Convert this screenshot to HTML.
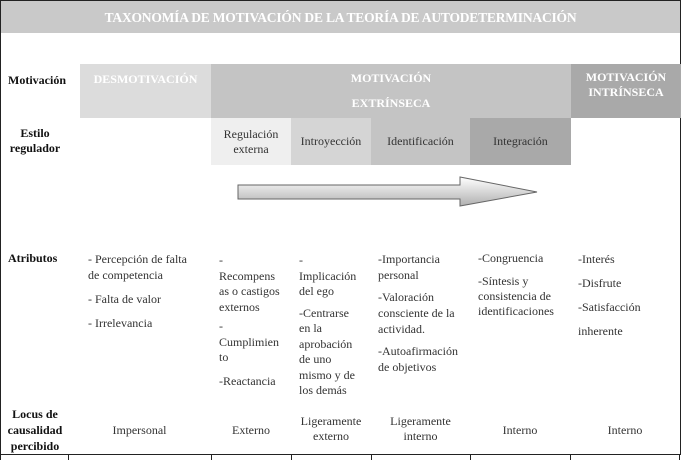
<!DOCTYPE html>
<html><head><meta charset="utf-8"><style>
body{margin:0;width:681px;height:460px;overflow:hidden;background:#fff;font-family:"Liberation Serif",serif;color:#333;font-size:12px;}
.a{position:absolute;}
.c{display:flex;align-items:center;justify-content:center;text-align:center;line-height:15px;}
.b{font-weight:bold;}
.t{line-height:15px;}
</style></head><body>
<div class="a" style="left:0;top:0;width:679px;height:454px;border:1px solid #222;border-bottom:none;"></div>
<div class="a c b" style="left:1px;top:1px;width:679px;height:32px;background:#c9c9c9;color:#fff;font-size:13.5px;letter-spacing:-0.2px">TAXONOMÍA DE MOTIVACIÓN DE LA TEORÍA DE AUTODETERMINACIÓN</div>

<div class="a b" style="left:8px;top:73px;font-size:12px;color:#111">Motivación</div>
<div class="a c b" style="left:80px;top:64px;width:131px;height:54px;background:#dcdcdc;color:#fff;align-items:flex-start;padding-top:8px;box-sizing:border-box">DESMOTIVACIÓN</div>
<div class="a c b" style="left:211px;top:64px;width:360px;height:54px;background:#c4c4c4;color:#fff;line-height:25px">MOTIVACIÓN<br>EXTRÍNSECA</div>
<div class="a c b" style="left:571px;top:64px;width:110px;height:54px;background:#a9a9a9;color:#fff;align-items:flex-start;padding-top:6px;box-sizing:border-box;line-height:15px">MOTIVACIÓN<br>INTRÍNSECA</div>

<div class="a c b" style="left:8px;top:126px;width:54px;color:#111">Estilo<br>regulador</div>
<div class="a c" style="left:211px;top:118px;width:80px;height:47px;background:#efefef">Regulación<br>externa</div>
<div class="a c" style="left:291px;top:118px;width:80px;height:47px;background:#d5d5d5">Introyección</div>
<div class="a c" style="left:371px;top:118px;width:99px;height:47px;background:#c4c4c4">Identificación</div>
<div class="a c" style="left:470px;top:118px;width:101px;height:47px;background:#a9a9a9">Integración</div>

<svg class="a" style="left:0;top:0" width="681" height="460">
<defs><linearGradient id="g" x1="0" y1="0" x2="0" y2="1"><stop offset="0" stop-color="#fff"/><stop offset="1" stop-color="#b0b0b0"/></linearGradient></defs>
<polygon points="238,185 460,185 460,177 537,192 460,206 460,199 238,199" fill="url(#g)" stroke="#666"/>
<line x1="0" y1="454.5" x2="681" y2="454.5" stroke="#222"/>
<g stroke="#222"><line x1="68.5" y1="454" x2="68.5" y2="460"/><line x1="211.5" y1="454" x2="211.5" y2="460"/><line x1="291.5" y1="454" x2="291.5" y2="460"/><line x1="371.5" y1="454" x2="371.5" y2="460"/><line x1="470.5" y1="454" x2="470.5" y2="460"/><line x1="570.5" y1="454" x2="570.5" y2="460"/><line x1="0.5" y1="454" x2="0.5" y2="460"/><line x1="679.5" y1="454" x2="679.5" y2="460"/></g>
</svg>

<div class="a b" style="left:8px;top:251px;color:#111">Atributos</div>
<div class="a t" style="left:88px;top:251px;width:120px;line-height:16px">- Percepción de falta<br>de competencia<div style="height:8px"></div>- Falta de valor<div style="height:8px"></div>- Irrelevancia</div>
<div class="a t" style="left:219px;top:253px;width:72px;line-height:15.5px">-<br>Recompens<br>as o castigos<br>externos<br><div style="height:4px"></div>-<br>Cumplimien<br>to<div style="height:8px"></div>-Reactancia</div>
<div class="a t" style="left:299px;top:253px;width:72px;line-height:15.5px">-<br>Implicación<br>del ego<div style="height:6px"></div>-Centrarse<br>en la<br>aprobación<br>de uno<br>mismo y de<br>los demás</div>
<div class="a t" style="left:378px;top:251px;width:95px;line-height:16px">-Importancia<br>personal<div style="height:6px"></div>-Valoración<br>consciente de la<br>actividad.<div style="height:6px"></div>-Autoafirmación<br>de objetivos</div>
<div class="a t" style="left:478px;top:251px;width:95px;line-height:15px">-Congruencia<div style="height:8px"></div>-Síntesis y<br>consistencia de<br>identificaciones</div>
<div class="a t" style="left:578px;top:251px;width:95px;line-height:16px">-Interés<div style="height:8px"></div>-Disfrute<div style="height:8px"></div>-Satisfacción<div style="height:8px"></div>inherente</div>

<div class="a c b" style="left:4px;top:406px;width:62px;color:#111;line-height:16px">Locus de<br>causalidad<br>percibido</div>
<div class="a c" style="left:68px;top:420px;width:143px;height:20px">Impersonal</div>
<div class="a c" style="left:211px;top:420px;width:80px;height:20px">Externo</div>
<div class="a c" style="left:291px;top:414px;width:80px;height:30px">Ligeramente<br>externo</div>
<div class="a c" style="left:371px;top:414px;width:99px;height:30px">Ligeramente<br>interno</div>
<div class="a c" style="left:470px;top:420px;width:100px;height:20px">Interno</div>
<div class="a c" style="left:570px;top:420px;width:110px;height:20px">Interno</div>
</body></html>
